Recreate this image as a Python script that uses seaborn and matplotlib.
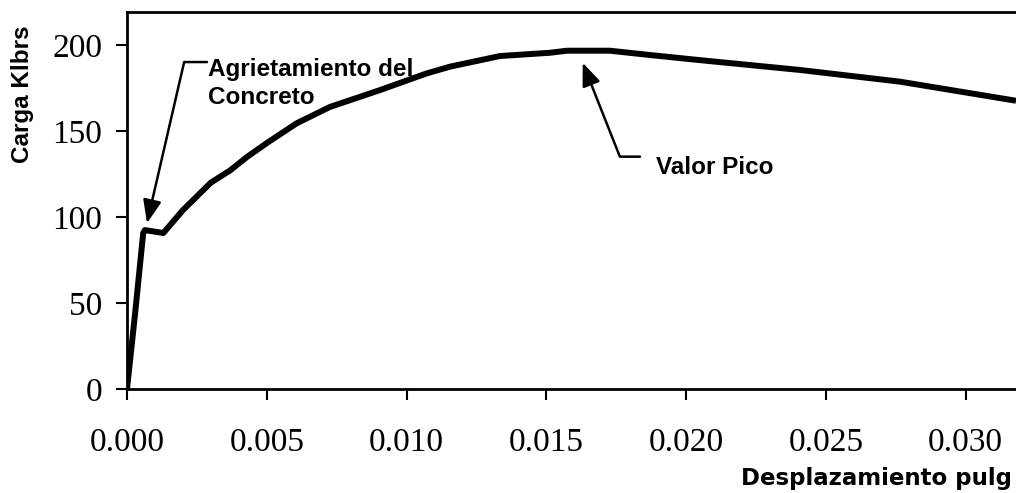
import matplotlib
matplotlib.use("Agg")
import matplotlib.pyplot as plt
import seaborn as sns
import pandas as pd

# datos (desplazamiento en pulg, carga en kips)
desplazamiento = [0.0, 0.00029, 0.00058, 0.00064, 0.0013, 0.002, 0.003, 0.00368,
                  0.0043, 0.005, 0.00607, 0.00726, 0.00905, 0.01072, 0.01155,
                  0.01334, 0.01513, 0.01574, 0.01727, 0.0187, 0.0205, 0.02407,
                  0.02765, 0.0318]
carga = [0.0, 44.0, 90.7, 92.4, 90.7, 104.0, 120.0, 127.0,
         135.0, 143.0, 154.5, 164.0, 173.8, 183.5, 187.4,
         193.6, 195.5, 196.7, 196.7, 194.2, 191.2, 185.5,
         178.7, 167.6]
x_ticks = [0.000, 0.005, 0.010, 0.015, 0.020, 0.025, 0.030]
y_ticks = [0, 50, 100, 150, 200]

df = pd.DataFrame({"x": desplazamiento, "y": carga})

sns.set_style("white")
plt.rcParams["font.family"] = ["Liberation Sans", "DejaVu Sans"]
plt.rcParams["text.color"] = "black"
plt.rcParams["xtick.color"] = "black"
plt.rcParams["ytick.color"] = "black"

fig = plt.figure(figsize=(10.16, 4.93), dpi=100)
ax = fig.add_axes([127 / 1016, 1 - 389 / 493, 1 - 127 / 1016, (389 - 12) / 493])

sns.lineplot(data=df, x="x", y="y", ax=ax, color="black", linewidth=4.3,
             sort=False, solid_capstyle="butt", solid_joinstyle="round")

ax.set_xlim(0, 0.0318)
ax.set_ylim(0, 219.2)
ax.set_xticks(x_ticks)
ax.set_xticklabels([f"{t:.3f}" for t in x_ticks])
ax.set_yticks(y_ticks)
ax.set_xlabel("")
ax.set_ylabel("")

for lab in ax.get_xticklabels() + ax.get_yticklabels():
    lab.set_family("Liberation Serif")
    lab.set_fontsize(24)
    lab.set_color("black")
ax.tick_params(axis="x", direction="out", length=8, width=1.5, pad=20, color="black")
ax.tick_params(axis="y", direction="out", length=8, width=1.5, pad=10, color="black")
ax.tick_params(bottom=True, left=True)

for side in ["left", "bottom", "top"]:
    ax.spines[side].set_color("black")
    ax.spines[side].set_linewidth(2)
ax.spines["right"].set_visible(False)

# anotaciones
flecha = dict(arrowstyle="-|>,head_length=0.5,head_width=0.2", color="black",
              lw=1.8, shrinkA=0, shrinkB=0, mutation_scale=28)
ax.annotate("", xy=(0.000715, 96.5), xytext=(0.00286, 190.1),
            arrowprops=dict(flecha, connectionstyle="angle,angleA=0,angleB=77"))
ax.text(0.00289, 192.5, "Agrietamiento del\nConcreto", ha="left", va="top",
        fontsize=17.5, fontweight="bold", linespacing=1.3,
        transform=ax.transData)

ax.annotate("", xy=(0.0163, 189.7), xytext=(0.01835, 135.1),
            arrowprops=dict(flecha, connectionstyle="angle,angleA=0,angleB=111.6"))
ax.text(0.01893, 129.0, "Valor Pico", ha="left", va="center",
        fontsize=17.5, fontweight="bold")

fig.text(22 / 1016, 1 - 94 / 493, "Carga Klbrs", rotation=90, ha="center",
         va="center", fontsize=17.5, fontweight="bold")
fig.text(1012 / 1016, 1 - 478 / 493, "Desplazamiento pulg", ha="right",
         va="center", fontsize=16.5, fontweight="heavy", family="DejaVu Sans")

fig.savefig("out.png", dpi=100)
